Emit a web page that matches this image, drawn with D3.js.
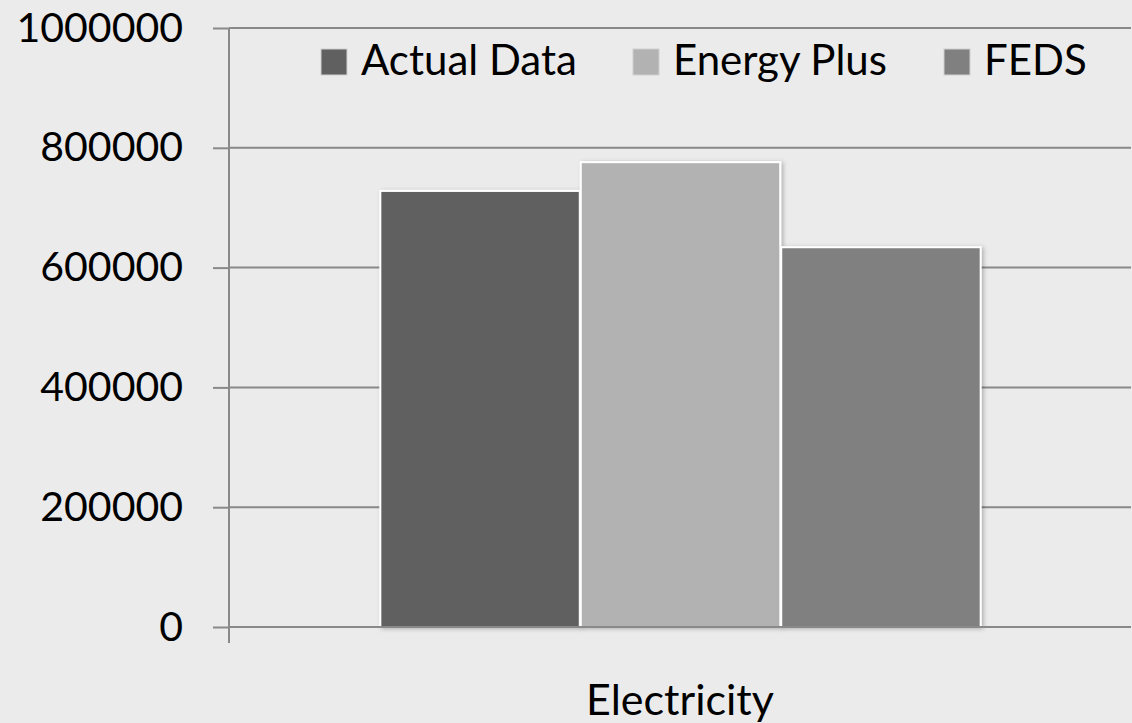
<!DOCTYPE html>
<html>
<head>
<meta charset="utf-8">
<script src="https://cdn.jsdelivr.net/npm/d3@7"></script>
<style>
  html, body { margin: 0; padding: 0; background: #ebebeb; }
  svg { display: block; }
  text { font-family: Lato, "Open Sans", sans-serif; fill: #000; }
</style>
</head>
<body>
<svg id="chart" width="1132" height="723"></svg>
<script>
// Annual energy use, one category, three sources
const categories = ["Electricity"];
const seriesNames = ["Actual Data", "Energy Plus", "FEDS"];
const seriesValues = [728000, 776000, 634000];
const seriesColors = ["#606060", "#b2b2b2", "#808080"];
const yTicks = [0, 200000, 400000, 600000, 800000, 1000000];

const W = 1132, H = 723;
const margin = { left: 229, right: 1, top: 28, bottom: 96 };
const svg = d3.select("#chart");

const defs = svg.append("defs");
const shadow = defs.append("filter").attr("id", "barShadow")
  .attr("x", "-5%").attr("y", "-5%").attr("width", "115%").attr("height", "115%");
shadow.append("feDropShadow").attr("dx", 2).attr("dy", 1).attr("stdDeviation", 2)
  .attr("flood-color", "#000").attr("flood-opacity", 0.25);

const y = d3.scaleLinear().domain([0, 1000000]).range([H - margin.bottom, margin.top]);
// gap of 150% of a bar width between category groups
const x0 = d3.scaleBand().domain(categories)
  .range([margin.left, W - margin.right]).paddingInner(0).paddingOuter(0.25);
const x1 = d3.scaleBand().domain(seriesNames).range([0, x0.bandwidth()]).padding(0);

// horizontal gridlines
svg.append("g").selectAll("line").data(yTicks.filter(d => d > 0)).join("line")
  .attr("x1", margin.left).attr("x2", W - margin.right)
  .attr("y1", d => y(d)).attr("y2", d => y(d))
  .attr("stroke", "#898989").attr("stroke-width", 2);

// bars
const table = categories.map(c => seriesNames.map((s, i) => ({ cat: c, name: s, value: seriesValues[i], color: seriesColors[i] })));
const groups = svg.append("g").selectAll("g").data(table).join("g")
  .attr("transform", (d, i) => `translate(${x0(categories[i])},0)`);
groups.selectAll("rect").data(d => d).join("rect")
  .attr("x", d => x1(d.name) + 1)
  .attr("width", x1.bandwidth() - 1)
  .attr("y", d => y(d.value))
  .attr("height", d => y(0) - y(d.value))
  .attr("fill", d => d.color)
  .attr("stroke", "#ffffff").attr("stroke-width", 2)
  .attr("filter", "url(#barShadow)");

// y axis
const yAxis = d3.axisLeft(y).tickValues(yTicks).tickFormat(d3.format("d"))
  .tickSize(16).tickPadding(30);
const gy = svg.append("g").attr("transform", `translate(${margin.left},0)`).call(yAxis);
gy.select(".domain").remove();
gy.selectAll(".tick line").attr("stroke", "#898989").attr("stroke-width", 2);
gy.selectAll(".tick text").attr("font-size", 41).attr("font-family", "Lato, sans-serif").attr("fill", "#000");
svg.append("line")
  .attr("x1", margin.left).attr("x2", margin.left)
  .attr("y1", y(1000000)).attr("y2", y(0) + 16)
  .attr("stroke", "#898989").attr("stroke-width", 2);

// x axis
svg.append("line")
  .attr("x1", margin.left).attr("x2", W - margin.right)
  .attr("y1", y(0)).attr("y2", y(0))
  .attr("stroke", "#898989").attr("stroke-width", 2);
const xAxis = d3.axisBottom(x0).tickSize(0).tickPadding(0);
const gx = svg.append("g").attr("transform", `translate(0,${y(0)})`).call(xAxis);
gx.select(".domain").remove();
gx.selectAll(".tick text").attr("font-size", 43).attr("font-family", "Lato, sans-serif")
  .attr("fill", "#000").attr("dy", 0).attr("y", 88);

// legend
const legendX = [321, 633, 944];
const legend = svg.append("g").selectAll("g").data(seriesNames).join("g")
  .attr("transform", (d, i) => `translate(${legendX[i]},49)`);
legend.append("rect").attr("width", 26).attr("height", 26)
  .attr("fill", (d, i) => seriesColors[i]).attr("stroke", "#d0d0d0").attr("stroke-width", 1);
legend.append("text").attr("x", 40).attr("y", 26).attr("font-size", 42).text(d => d);
</script>
</body>
</html>
